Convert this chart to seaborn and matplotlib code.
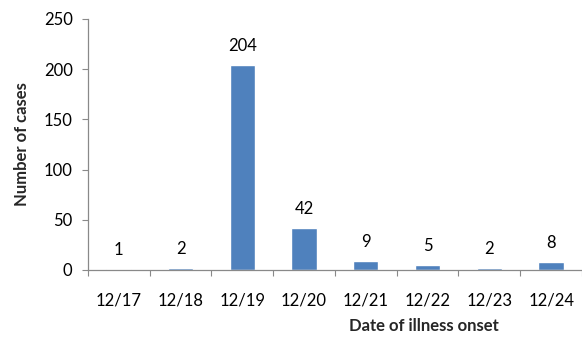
import matplotlib
matplotlib.use("Agg")
import matplotlib.pyplot as plt
import seaborn as sns
import pandas as pd

# Daily case counts by date of illness onset
onset_dates = ["12/17", "12/18", "12/19", "12/20", "12/21", "12/22", "12/23", "12/24"]
case_counts = [1, 2, 204, 42, 9, 5, 2, 8]
y_ticks = [0, 50, 100, 150, 200, 250]

bar_color = "#4F81BD"
axis_color = "#898989"

sns.set_theme(style="white")
plt.rcParams["font.family"] = ["Lato", "DejaVu Sans"]

df = pd.DataFrame({"date": onset_dates, "cases": case_counts})

fig = plt.figure(figsize=(5.82, 3.43), dpi=100)
ax = fig.add_axes([0.151, 0.213, 0.849, 0.732])

sns.barplot(data=df, x="date", y="cases", color=bar_color, width=0.41,
            saturation=1, ax=ax)

ax.set_ylim(0, 250)
ax.set_yticks(y_ticks)
ax.set_xlim(-0.5, len(onset_dates) - 0.5)

# category separators as outward ticks on the x axis
ax.set_xticks(range(len(onset_dates)))
ax.set_xticklabels(onset_dates)
ax.set_xticks([i + 0.5 for i in range(-1, len(onset_dates))], minor=True)
ax.tick_params(axis="x", which="major", length=0, pad=16, labelsize=12, colors="black")
ax.tick_params(axis="x", which="minor", length=4, width=0.8, color=axis_color, direction="out")
ax.tick_params(axis="y", length=4, width=0.8, color=axis_color, direction="out",
               pad=7, labelsize=12, labelcolor="black")
ax.xaxis.set_tick_params(bottom=True, which="both")
ax.yaxis.set_tick_params(left=True)

for side in ["top", "right"]:
    ax.spines[side].set_visible(False)
for side in ["left", "bottom"]:
    ax.spines[side].set_color(axis_color)
    ax.spines[side].set_linewidth(0.9)

ax.bar_label(ax.containers[0], labels=[str(v) for v in case_counts],
             padding=8, fontsize=12, color="black")

ax.set_xlabel("Date of illness onset", fontsize=12, fontweight="bold")
ax.set_ylabel("Number of cases", fontsize=12, fontweight="bold")
ax.xaxis.set_label_coords(0.68, -0.19)
ax.yaxis.set_label_coords(-0.117, 0.5)
ax.grid(False)

fig.savefig("out.png", dpi=100)
